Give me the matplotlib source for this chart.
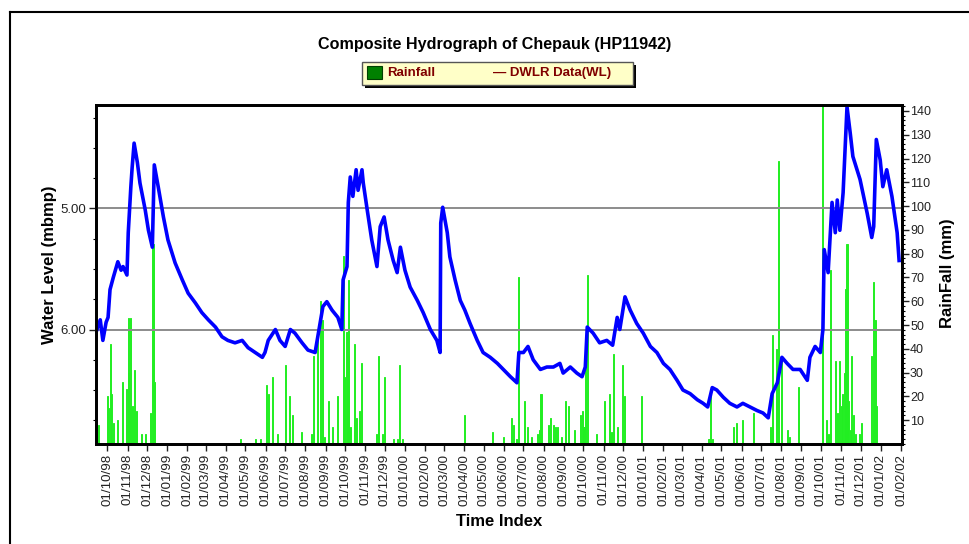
import pandas as pd
import numpy as np
import matplotlib
matplotlib.use("Agg")
import matplotlib.pyplot as plt
import matplotlib.dates as mdates
from matplotlib.patches import Rectangle
from matplotlib.lines import Line2D
from matplotlib.ticker import MultipleLocator, FixedLocator, FormatStrFormatter

plt.rcParams["font.family"] = ["Liberation Sans", "DejaVu Sans"]

# Water level (DWLR), days from 01/10/1998 and level in m below measuring point
wl_day = [-16, -11, -7, -2, 1, 4, 9, 16, 21, 24, 30, 32, 36, 38, 41, 46, 50, 58, 63, 69,
          72, 78, 86, 93, 104, 115, 124, 135, 145, 155, 166, 176, 185, 196, 207, 216, 227, 238, 242, 247,
          258, 265, 273, 281, 288, 299, 308, 319, 324, 331, 337, 345, 354, 360, 362, 368, 370, 373, 377, 382,
          385, 391, 393, 399, 406, 414, 419, 425, 431, 439, 445, 450, 457, 465, 476, 485, 496, 506, 511, 512,
          515, 522, 526, 534, 542, 549, 557, 568, 577, 588, 599, 608, 619, 629, 632, 639, 646, 654, 665, 675,
          685, 695, 700, 711, 721, 729, 734, 737, 746, 756, 767, 776, 783, 787, 795, 803, 813, 823, 834, 844,
          854, 864, 875, 884, 895, 906, 915, 922, 929, 936, 946, 956, 967, 976, 987, 998, 1007, 1015, 1021, 1029,
          1036, 1044, 1053, 1064, 1075, 1079, 1087, 1095, 1099, 1101, 1107, 1113, 1118, 1121, 1125, 1130, 1136, 1141, 1145, 1156,
          1167, 1174, 1177, 1181, 1187, 1191, 1197, 1205, 1213, 1216]
wl_level = [6.00, 5.92, 6.09, 5.94, 5.90, 5.67, 5.57, 5.44, 5.51, 5.48, 5.55, 5.20, 4.82, 4.66, 4.46, 4.62, 4.79, 5.01, 5.18, 5.32,
            4.64, 4.82, 5.07, 5.26, 5.45, 5.59, 5.70, 5.78, 5.86, 5.92, 5.98, 6.06, 6.09, 6.11, 6.09, 6.15, 6.19, 6.23, 6.19, 6.09,
            6.00, 6.09, 6.14, 6.00, 6.03, 6.11, 6.17, 6.19, 6.03, 5.81, 5.77, 5.84, 5.90, 6.00, 5.59, 5.48, 4.95, 4.74, 4.90, 4.68,
            4.85, 4.68, 4.79, 5.01, 5.26, 5.48, 5.15, 5.07, 5.26, 5.43, 5.53, 5.32, 5.51, 5.65, 5.76, 5.86, 6.00, 6.09, 6.19, 5.12,
            4.99, 5.20, 5.40, 5.59, 5.76, 5.84, 5.95, 6.09, 6.19, 6.23, 6.28, 6.33, 6.39, 6.44, 6.19, 6.19, 6.14, 6.25, 6.33, 6.31,
            6.31, 6.28, 6.36, 6.31, 6.36, 6.39, 6.31, 5.98, 6.03, 6.11, 6.09, 6.13, 5.90, 6.00, 5.73, 5.84, 5.95, 6.03, 6.14, 6.19,
            6.28, 6.33, 6.42, 6.50, 6.53, 6.58, 6.61, 6.64, 6.48, 6.50, 6.56, 6.61, 6.64, 6.61, 6.64, 6.67, 6.69, 6.73, 6.53, 6.44,
            6.23, 6.28, 6.33, 6.33, 6.42, 6.23, 6.14, 6.19, 6.00, 5.34, 5.53, 4.95, 5.20, 4.93, 5.18, 4.87, 4.16, 4.38, 4.57, 4.76,
            5.04, 5.24, 5.15, 4.43, 4.60, 4.82, 4.68, 4.90, 5.20, 5.43]

# Rainfall, days from 01/10/1998 and mm
rain_day = [-14, 0, 1, 4, 7, 10, 15, 23, 29, 30, 32, 33, 36, 38, 41, 44, 52, 58, 66, 70,
            73, 204, 227, 235, 244, 247, 253, 261, 274, 279, 284, 298, 314, 317, 322, 327, 330, 334, 340, 345,
            353, 362, 364, 368, 370, 371, 374, 379, 382, 387, 390, 414, 416, 417, 423, 426, 439, 446, 448, 453,
            548, 592, 608, 621, 623, 629, 632, 640, 645, 652, 660, 663, 666, 677, 680, 685, 688, 692, 697, 704,
            708, 718, 726, 729, 732, 735, 737, 751, 763, 771, 774, 778, 784, 791, 794, 820, 821, 924, 927, 930,
            962, 966, 976, 993, 1018, 1021, 1022, 1027, 1031, 1035, 1045, 1047, 1061, 1098, 1099, 1104, 1108, 1110, 1119, 1121,
            1124, 1127, 1129, 1132, 1133, 1136, 1138, 1141, 1143, 1146, 1149, 1155, 1158, 1173, 1176, 1177, 1179, 1182]
rain_mm = [8, 20, 15, 42, 21, 9, 10, 26, 8, 23, 30, 53, 53, 16, 31, 14, 4, 4, 13, 84,
           26, 2, 2, 2, 25, 21, 28, 4, 33, 20, 12, 5, 4, 37, 44, 60, 52, 3, 18, 7,
           20, 79, 28, 47, 69, 37, 7, 42, 11, 14, 34, 4, 37, 30, 4, 28, 2, 2, 33, 2,
           12, 5, 3, 11, 8, 2, 70, 18, 7, 3, 4, 6, 21, 8, 11, 8, 7, 7, 3, 18,
           16, 6, 12, 14, 7, 42, 71, 4, 18, 21, 5, 38, 7, 33, 20, 20, 2, 2, 21, 2,
           7, 9, 10, 13, 7, 46, 7, 40, 119, 37, 6, 3, 24, 48, 150, 10, 4, 73, 35, 13,
           35, 16, 21, 30, 65, 84, 18, 6, 37, 12, 4, 4, 9, 37, 6, 68, 52, 16]

start = pd.Timestamp("1998-10-01")
wl_dates = start + pd.to_timedelta(wl_day, unit="D")
rain_dates = start + pd.to_timedelta(rain_day, unit="D")

W, H = 970, 544
fig = plt.figure(figsize=(9.7, 5.44), dpi=100)
fig.patch.set_facecolor("white")


def fx(px):
    return px / W


def fy(py):
    return 1 - py / H


ax = fig.add_axes([fx(95.7), fy(444), fx(901.7) - fx(95.7), fy(105) - fy(444)])
ax2 = ax.twinx()

# vertical month grid first, then the rainfall bars (right axis) on top of it
ax2.grid(axis="x", color="#8c8c8c", linewidth=1.4, zorder=0)
ax2.set_axisbelow(True)
ax2.bar(rain_dates, rain_mm, width=1.6, color="#22ee22", edgecolor="#22ee22", linewidth=0.7, zorder=2)
ax2.set_ylim(0, 142.5)
ax2.yaxis.set_major_locator(FixedLocator(range(10, 150, 10)))
ax2.yaxis.set_minor_locator(MultipleLocator(2))
ax2.tick_params(axis="y", which="major", length=5, width=1, labelsize=9, colors="#222222", pad=1)
ax2.tick_params(axis="y", which="minor", length=2.5, width=0.8)

# water level line (left axis, inverted)
ax.set_zorder(ax2.get_zorder() + 1)
ax.patch.set_visible(False)
ax.plot(wl_dates, wl_level, color="#0000ff", linewidth=2.6)
for lvl in [5.0, 6.0]:
    ax.axhline(lvl, color="#8c8c8c", linewidth=1.4, zorder=0)
ax.set_ylim(6.946, 4.145)
ax.yaxis.set_major_locator(FixedLocator([5.0, 6.0]))
ax.yaxis.set_minor_locator(MultipleLocator(0.25))
ax.yaxis.set_major_formatter(FormatStrFormatter("%.2f"))
ax.tick_params(axis="y", which="major", length=5, width=1, labelsize=9.5, colors="#222222", pad=2)
ax.tick_params(axis="y", which="minor", length=2.5, width=0.8)

ax.set_xlim(pd.Timestamp("1998-09-13"), pd.Timestamp("2002-02-02"))
ax.xaxis.set_major_locator(mdates.MonthLocator())
ax.xaxis.set_major_formatter(mdates.DateFormatter("%d/%m/%y"))
ax.tick_params(axis="x", length=5, width=1, labelsize=9.6, colors="#222222", rotation=90, pad=2)

for a in (ax, ax2):
    for s in a.spines.values():
        s.set_linewidth(2)
        s.set_color("black")

# texts
fig.text(fx(495), fy(45), "Composite Hydrograph of Chepauk (HP11942)", ha="center", va="center",
         fontsize=11.6, fontweight="bold")
fig.text(fx(50), fy(265), "Water Level (mbmp)", ha="center", va="center", rotation=90,
         fontsize=12, fontweight="bold")
fig.text(fx(948), fy(273), "RainFall (mm)", ha="center", va="center", rotation=90,
         fontsize=12, fontweight="bold")
fig.text(fx(499), fy(522), "Time Index", ha="center", va="center", fontsize=12, fontweight="bold")

# legend box
fig.patches.append(Rectangle((fx(365), fy(88)), fx(636) - fx(365), fy(65) - fy(88),
                             transform=fig.transFigure, facecolor="black", edgecolor="none"))
fig.patches.append(Rectangle((fx(362), fy(85)), fx(633) - fx(362), fy(62) - fy(85),
                             transform=fig.transFigure, facecolor="#ffffc8", edgecolor="#555555", linewidth=1))
fig.patches.append(Rectangle((fx(367), fy(79)), fx(382) - fx(367), fy(66) - fy(79),
                             transform=fig.transFigure, facecolor="#008000", edgecolor="#004000", linewidth=0.8))
fig.text(fx(387), fy(73), "Rainfall", ha="left", va="center", fontsize=9.5, fontweight="bold", color="#800000")
fig.text(fx(493), fy(73), "— DWLR Data(WL)", ha="left", va="center", fontsize=9.5, fontweight="bold",
         color="#800000")

# outer frame
fig.lines.append(Line2D([fx(10), fx(10)], [fy(12), 0], transform=fig.transFigure, color="black", linewidth=1.5))
fig.lines.append(Line2D([fx(10), 1], [fy(12), fy(12)], transform=fig.transFigure, color="black", linewidth=1.5))

plt.savefig("out.png", dpi=100)
plt.close()
